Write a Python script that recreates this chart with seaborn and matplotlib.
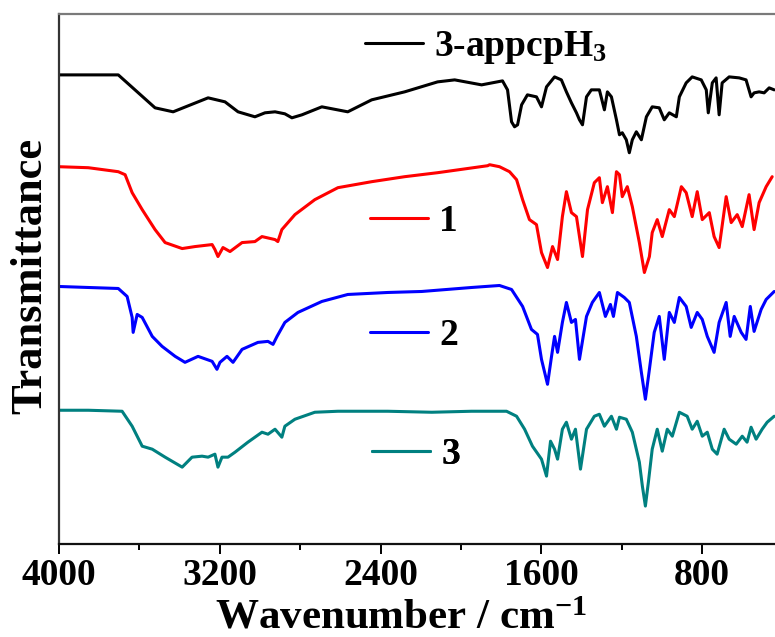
import numpy as np
import pandas as pd
import matplotlib
matplotlib.use("Agg")
import matplotlib.pyplot as plt
from matplotlib.lines import Line2D
from matplotlib.ticker import FixedLocator, NullFormatter
import seaborn as sns

# ---------------- data (wavenumber in cm^-1, transmittance in a.u., curves offset) ----------------
wn_ligand = [4000, 3705, 3522, 3432, 3258, 3174, 3109, 3025, 2975, 2925, 2876, 2841, 2791, 2692, 2563,
             2444, 2280, 2116, 2031, 1897, 1793, 1768, 1748, 1733, 1718, 1698, 1669, 1624, 1599, 1574,
             1534, 1500, 1475, 1450, 1425, 1410, 1395, 1375, 1351, 1311, 1286, 1271, 1251, 1226, 1211,
             1197, 1177, 1162, 1147, 1127, 1102, 1077, 1048, 1013, 988, 963, 928, 913, 879, 849, 804,
             779, 769, 749, 730, 715, 700, 665, 615, 581, 556, 541, 516, 491, 466, 441]
t_ligand = [470, 470, 437, 433, 447, 443, 433, 428, 432, 433, 431, 427, 430, 438, 433,
            445, 453, 463, 465, 460, 464, 455, 423, 418, 420, 440, 450, 448, 438, 458,
            468, 465, 453, 442, 432, 425, 420, 448, 455, 455, 435, 453, 448, 425, 410,
            412, 405, 392, 405, 413, 405, 428, 438, 437, 425, 432, 428, 448, 462, 468, 465,
            455, 432, 462, 467, 430, 462, 468, 467, 465, 448, 452, 453, 452, 457, 455]

wn_c1 = [4000, 3854, 3705, 3671, 3636, 3586, 3522, 3472, 3387, 3323, 3238, 3224, 3209, 3184, 3149,
         3089, 3025, 2990, 2925, 2911, 2891, 2826, 2727, 2612, 2444, 2280, 2116, 1867, 1857, 1808,
         1758, 1723, 1693, 1659, 1624, 1599, 1569, 1544, 1519, 1495, 1475, 1450, 1425, 1395, 1370,
         1336, 1311, 1296, 1271, 1246, 1226, 1211, 1197, 1172, 1147, 1112, 1087, 1062, 1048, 1023,
         998, 963, 938, 903, 879, 849, 824, 799, 764, 740, 715, 680, 655, 625, 600, 566, 541, 516,
         481, 451]
t_c1 = [378, 377, 373, 370, 352, 335, 315, 302, 296, 298, 300, 295, 288, 297, 293,
        302, 303, 308, 305, 303, 315, 330, 345, 357, 363, 368, 372, 379, 380, 378,
        373, 365, 345, 325, 320, 292, 277, 298, 285, 328, 353, 332, 328, 288, 335,
        362, 367, 342, 358, 332, 373, 370, 348, 358, 338, 302, 272, 288, 312, 325,
        308, 335, 328, 358, 352, 328, 353, 325, 332, 308, 297, 348, 322, 330, 318, 350, 315, 342,
        358, 368]

wn_c2 = [4000, 3854, 3705, 3661, 3636, 3631, 3611, 3586, 3536, 3487, 3422, 3373, 3308, 3238, 3214,
         3199, 3164, 3134, 3089, 3010, 2960, 2935, 2915, 2876, 2811, 2692, 2563, 2364, 2195, 1947,
         1808, 1748, 1693, 1649, 1619, 1599, 1569, 1549, 1534, 1519, 1495, 1475, 1450, 1430, 1410,
         1375, 1346, 1311, 1281, 1256, 1241, 1221, 1187, 1162, 1127, 1102, 1082, 1062, 1038, 1013,
         988, 963, 938, 913, 879, 854, 824, 799, 774, 740, 715, 680, 660, 640, 605, 581, 560, 541,
         506, 481, 441]
t_c2 = [258, 257, 256, 248, 227, 212, 230, 227, 208, 198, 188, 182, 188, 183, 175,
        182, 188, 182, 195, 202, 203, 200, 208, 222, 232, 243, 250, 252, 253, 257,
        259, 255, 238, 215, 210, 185, 160, 188, 208, 192, 222, 242, 222, 225, 185,
        228, 242, 252, 228, 240, 228, 252, 247, 242, 208, 172, 145, 175, 212, 228,
        185, 232, 222, 247, 238, 217, 232, 225, 208, 192, 222, 242, 208, 228, 212, 205, 238, 213,
        235, 245, 253]

wn_c3 = [4000, 3854, 3686, 3636, 3586, 3536, 3472, 3387, 3338, 3288, 3258, 3224, 3209, 3189, 3159,
         3124, 3060, 2990, 2960, 2925, 2891, 2876, 2826, 2727, 2612, 2364, 2145, 1947, 1798, 1773,
         1723, 1683, 1644, 1599, 1574, 1554, 1534, 1519, 1495, 1475, 1450, 1430, 1405, 1375, 1336,
         1311, 1286, 1251, 1226, 1211, 1177, 1147, 1112, 1097, 1082, 1067, 1048, 1023, 998, 973,
         948, 913, 874, 849, 824, 799, 774, 749, 725, 690, 665, 630, 600, 576, 556, 531, 501, 476,
         441]
t_c3 = [134, 134, 133, 118, 98, 95, 87, 77, 87, 88, 87, 90, 77, 87, 87,
        92, 102, 112, 110, 115, 107, 118, 125, 132, 133, 133, 132, 133, 133, 133,
        128, 115, 98, 85, 68, 103, 95, 85, 115, 122, 105, 115, 75, 115, 128,
        130, 118, 128, 115, 127, 125, 112, 82, 58, 38, 62, 95, 115, 93, 115,
        108, 132, 128, 115, 123, 108, 112, 95, 90, 115, 105, 100, 108, 102, 117, 105, 115, 122,
        128]

labels = ["3-appcpH$_3$", "1", "2", "3"]
colors = ["#000000", "#FF0000", "#0000FF", "#008080"]
major_ticks = [4000, 3200, 2400, 1600, 800, 400]
minor_ticks = [3600, 2800, 2000, 1200]

# ---------------- style ----------------
sns.set_theme(style="white")
plt.rcParams["font.family"] = ["Liberation Serif", "DejaVu Serif"]
plt.rcParams["font.weight"] = "bold"
plt.rcParams["mathtext.default"] = "regular"
plt.rcParams["text.color"] = "black"
plt.rcParams["axes.labelcolor"] = "black"
plt.rcParams["xtick.color"] = "black"
plt.rcParams["xtick.labelcolor"] = "black"

series = [(wn_ligand, t_ligand), (wn_c1, t_c1), (wn_c2, t_c2), (wn_c3, t_c3)]
frames = []
for lab, (w, t) in zip(labels, series):
    frames.append(pd.DataFrame({"wavenumber": w, "T": t, "sample": lab}))
df = pd.concat(frames, ignore_index=True)

fig = plt.figure(figsize=(7.75, 6.37), dpi=100)
ax = fig.add_axes([59 / 775, 93 / 637, 716 / 775, 530 / 637])

sns.lineplot(data=df, x="wavenumber", y="T", hue="sample", hue_order=labels,
             palette=colors, estimator=None, sort=False, linewidth=2.2,
             legend=False, ax=ax)

ax.set_xlim(4000, 437)
ax.set_ylim(0, 531)

# spines
ax.spines["right"].set_visible(False)
ax.spines["top"].set_color("#7a7a7a")
ax.spines["left"].set_color("#333333")
ax.spines["bottom"].set_color("#111111")
for s in ["top", "left", "bottom"]:
    ax.spines[s].set_linewidth(1.6)

# ticks
ax.xaxis.set_major_locator(FixedLocator(major_ticks))
ax.xaxis.set_minor_locator(FixedLocator(minor_ticks))
ax.xaxis.set_minor_formatter(NullFormatter())
ax.tick_params(axis="x", which="major", direction="out", length=7, width=1.4,
               colors="black", labelsize=27, pad=3, bottom=True)
ax.tick_params(axis="x", which="minor", direction="out", length=4, width=1.4,
               colors="black", bottom=True)
ax.set_yticks([])
for lbl in ax.get_xticklabels():
    lbl.set_fontweight("bold")
    lbl.set_color("black")

ax.set_xlabel("Wavenumber / cm$^{-1}$", fontsize=31, fontweight="bold", color="black")
ax.xaxis.set_label_coords(0.478, -0.104)
ax.set_ylabel("Transmittance", fontsize=32, fontweight="bold", color="black")
ax.yaxis.set_label_coords(-0.012, 0.505)

# legend entries placed beside each curve
legend_pos = [(0.427, 0.936), (0.434, 0.609), (0.434, 0.394), (0.437, 0.168)]
for lab, col, pos in zip(labels, colors, legend_pos):
    h = Line2D([], [], color=col, linewidth=2.2)
    leg = ax.legend([h], [lab], loc="center left", bbox_to_anchor=pos,
                    frameon=False, handlelength=1.55,
                    handletextpad=0.3, borderpad=0, borderaxespad=0,
                    prop={"weight": "bold", "size": 27}, labelcolor="black")
    ax.add_artist(leg)

fig.savefig("out.png", dpi=100)
